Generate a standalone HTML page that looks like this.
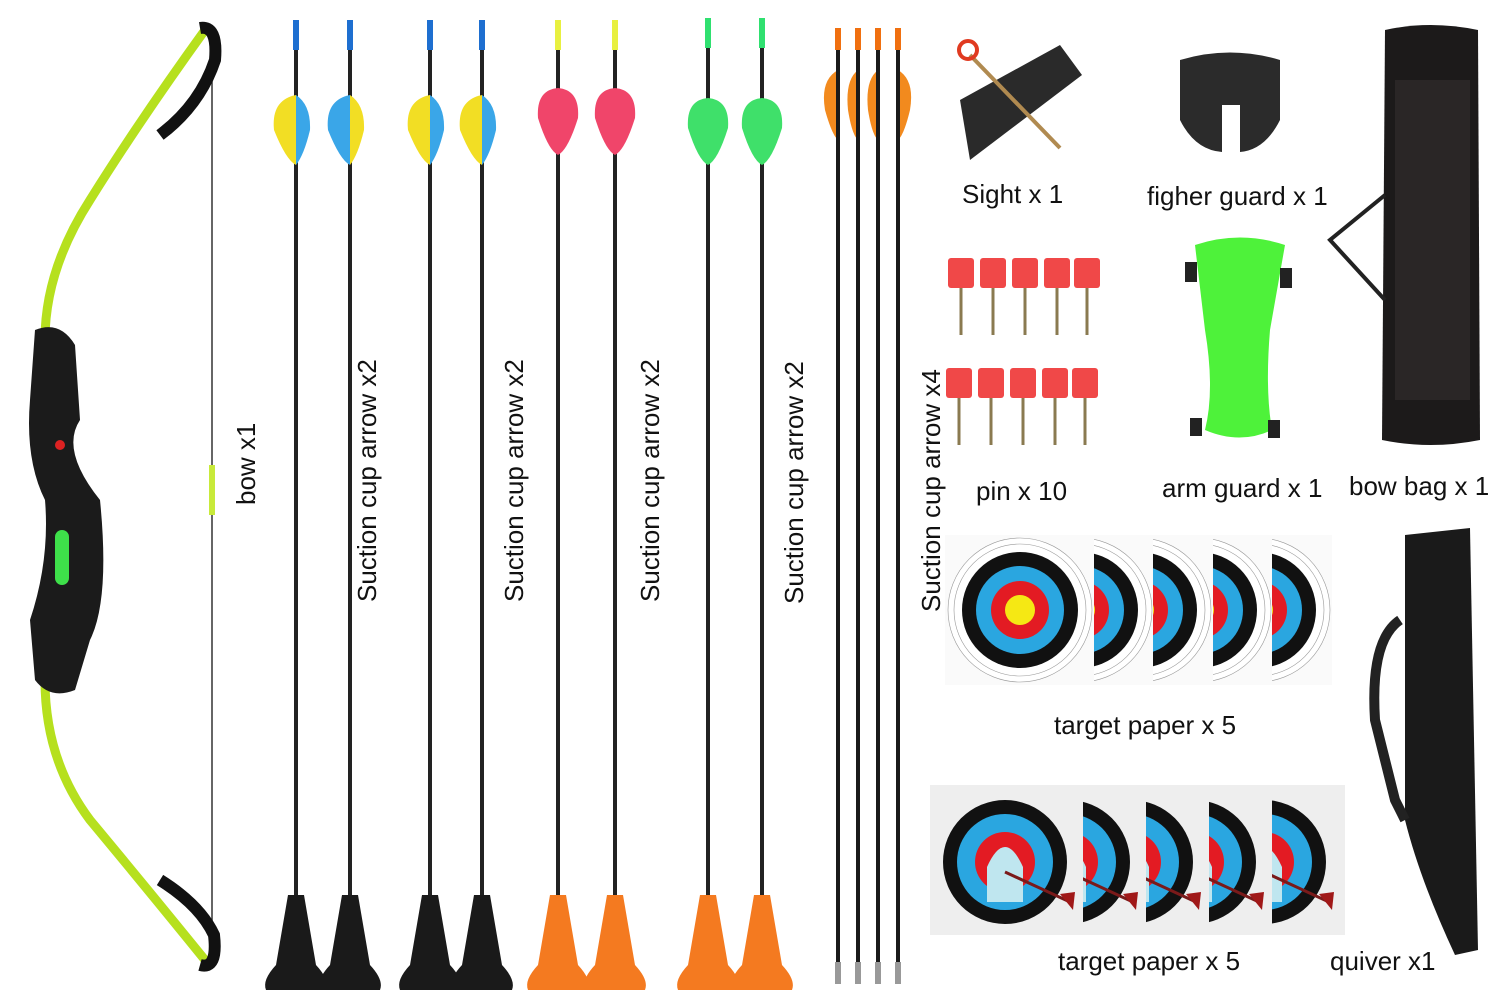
<!DOCTYPE html>
<html><head><meta charset="utf-8"><style>
html,body{margin:0;padding:0;background:#fff;}
svg{display:block}
text{font-family:"Liberation Sans",sans-serif;font-size:26px;fill:#111;}
</style></head><body>
<svg width="1500" height="1000" viewBox="0 0 1500 1000" xmlns="http://www.w3.org/2000/svg">
<defs>
<g id="tgt">
<circle r="72" fill="#fff" stroke="#999" stroke-width="0.6"/>
<circle r="66" fill="none" stroke="#999" stroke-width="0.6"/>
<circle r="58" fill="#111"/>
<circle r="44" fill="#2aa6e0"/>
<circle r="29" fill="#e31b23"/>
<circle r="15" fill="#f5e814"/>
</g>
<g id="tgt2">
<circle r="62" fill="#111"/>
<circle r="48" fill="#2aa6e0"/>
<circle r="30" fill="#e31b23"/>
<path d="M-18 40 L-18 5 Q0 -35 18 5 L18 40 Z" fill="#bfe6ef"/>
<line x1="0" y1="10" x2="65" y2="40" stroke="#7a1a1a" stroke-width="3"/>
<path d="M55 32 L70 30 L68 48 Z" fill="#a01818"/>
</g>
<clipPath id="c1"><rect x="1094" y="535" width="60" height="150"/></clipPath>
<clipPath id="c2"><rect x="1153" y="535" width="60" height="150"/></clipPath>
<clipPath id="c3"><rect x="1213" y="535" width="60" height="150"/></clipPath>
<clipPath id="c4"><rect x="1272" y="535" width="60" height="150"/></clipPath>
<clipPath id="d1"><rect x="1083" y="785" width="63" height="150"/></clipPath>
<clipPath id="d2"><rect x="1146" y="785" width="63" height="150"/></clipPath>
<clipPath id="d3"><rect x="1209" y="785" width="63" height="150"/></clipPath>
<clipPath id="d4"><rect x="1272" y="785" width="73" height="150"/></clipPath>
<g id="arrowB">
<line x1="0" y1="40" x2="0" y2="900" stroke="#222" stroke-width="4"/>
<rect x="-3" y="20" width="6" height="30" fill="#1e6fd0"/>
</g>
<g id="cupB"><path d="M-8 0 L8 0 L20 70 Q34 85 30 95 L-30 95 Q-34 85 -20 70 Z" fill="#1a1a1a"/></g>
<g id="cupO"><path d="M-8 0 L8 0 L20 70 Q34 85 30 95 L-30 95 Q-34 85 -20 70 Z" fill="#f47a20"/></g>
</defs>
<rect width="1500" height="1000" fill="#fff"/>

<!-- bow -->
<line x1="212" y1="40" x2="212" y2="960" stroke="#333" stroke-width="1.5"/>
<rect x="209" y="465" width="6" height="50" fill="#c8ea3a"/>
<path d="M205 30 Q140 120 90 200 Q45 270 45 340" fill="none" stroke="#b6e01e" stroke-width="9"/>
<path d="M45 680 Q45 760 90 820 Q140 880 205 960" fill="none" stroke="#b6e01e" stroke-width="9"/>
<path d="M200 28 Q218 25 215 60 Q200 105 160 135" fill="none" stroke="#111" stroke-width="12"/>
<path d="M160 880 Q200 905 214 935 Q218 970 200 965" fill="none" stroke="#111" stroke-width="12"/>
<path d="M35 330 Q60 320 75 345 L80 420 Q60 450 100 500 Q110 600 90 640 L75 690 Q50 700 35 680 L30 620 Q50 560 45 500 Q25 460 30 400 Z" fill="#1b1b1b"/>
<rect x="55" y="530" width="14" height="55" rx="7" fill="#3ee04a"/>
<circle cx="60" cy="445" r="5" fill="#d22"/>

<text transform="translate(255,505) rotate(-90)">bow x1</text>

<!-- arrows -->
<g transform="translate(296,0)"><use href="#arrowB"/><path d="M0 95 Q-25 100 -22 130 Q-10 160 0 165 Z" fill="#f2de24"/><path d="M0 95 Q15 105 14 130 Q8 155 0 165 Z" fill="#3aa6e8"/><use href="#cupB" y="895"/></g>
<g transform="translate(350,0)"><use href="#arrowB"/><path d="M0 95 Q-25 100 -22 130 Q-10 160 0 165 Z" fill="#3aa6e8"/><path d="M0 95 Q15 105 14 130 Q8 155 0 165 Z" fill="#f2de24"/><use href="#cupB" y="895"/></g>
<g transform="translate(430,0)"><use href="#arrowB"/><path d="M0 95 Q-25 100 -22 130 Q-10 160 0 165 Z" fill="#f2de24"/><path d="M0 95 Q15 105 14 130 Q8 155 0 165 Z" fill="#3aa6e8"/><use href="#cupB" y="895"/></g>
<g transform="translate(482,0)"><use href="#arrowB"/><path d="M0 95 Q-25 100 -22 130 Q-10 160 0 165 Z" fill="#f2de24"/><path d="M0 95 Q15 105 14 130 Q8 155 0 165 Z" fill="#3aa6e8"/><use href="#cupB" y="895"/></g>
<g transform="translate(558,0)"><line x1="0" y1="40" x2="0" y2="900" stroke="#222" stroke-width="4"/><rect x="-3" y="20" width="6" height="30" fill="#e8f040"/><path d="M0 88 Q-22 90 -20 118 Q-10 150 0 155 Q10 150 20 118 Q22 90 0 88 Z" fill="#f0456a"/><use href="#cupO" y="895"/></g>
<g transform="translate(615,0)"><line x1="0" y1="40" x2="0" y2="900" stroke="#222" stroke-width="4"/><rect x="-3" y="20" width="6" height="30" fill="#e8f040"/><path d="M0 88 Q-22 90 -20 118 Q-10 150 0 155 Q10 150 20 118 Q22 90 0 88 Z" fill="#f0456a"/><use href="#cupO" y="895"/></g>
<g transform="translate(708,0)"><line x1="0" y1="40" x2="0" y2="900" stroke="#222" stroke-width="4"/><rect x="-3" y="18" width="6" height="30" fill="#2fe070"/><path d="M0 98 Q-22 100 -20 128 Q-10 160 0 165 Q10 160 20 128 Q22 100 0 98 Z" fill="#3fe06a"/><use href="#cupO" y="895"/></g>
<g transform="translate(762,0)"><line x1="0" y1="40" x2="0" y2="900" stroke="#222" stroke-width="4"/><rect x="-3" y="18" width="6" height="30" fill="#2fe070"/><path d="M0 98 Q-22 100 -20 128 Q-10 160 0 165 Q10 160 20 128 Q22 100 0 98 Z" fill="#3fe06a"/><use href="#cupO" y="895"/></g>
<g fill="#f28a1e">
<path d="M838 70 Q820 80 825 110 Q832 135 838 140 Z"/><path d="M858 70 Q845 80 848 110 Q852 135 858 140 Z"/><path d="M878 70 Q865 80 868 110 Q872 135 878 140 Z"/><path d="M898 70 Q915 80 910 110 Q904 135 898 140 Z"/>
</g>
<g stroke="#1a1a1a" stroke-width="4">
<line x1="838" y1="35" x2="838" y2="965"/><line x1="858" y1="35" x2="858" y2="965"/><line x1="878" y1="35" x2="878" y2="965"/><line x1="898" y1="35" x2="898" y2="965"/>
</g>
<g fill="#f07010"><rect x="835" y="28" width="6" height="22"/><rect x="855" y="28" width="6" height="22"/><rect x="875" y="28" width="6" height="22"/><rect x="895" y="28" width="6" height="22"/></g>
<g fill="#999"><rect x="835" y="962" width="6" height="22"/><rect x="855" y="962" width="6" height="22"/><rect x="875" y="962" width="6" height="22"/><rect x="895" y="962" width="6" height="22"/></g>

<text transform="translate(376,602) rotate(-90)">Suction cup arrow x2</text>
<text transform="translate(523,602) rotate(-90)">Suction cup arrow x2</text>
<text transform="translate(659,602) rotate(-90)">Suction cup arrow x2</text>
<text transform="translate(803,604) rotate(-90)">Suction cup arrow x2</text>
<text transform="translate(940,612) rotate(-90)">Suction cup arrow x4</text>

<!-- sight -->
<path d="M960 100 L1060 45 L1082 75 L970 160 Z" fill="#2a2a2a"/>
<line x1="970" y1="55" x2="1060" y2="148" stroke="#b08a50" stroke-width="4"/>
<circle cx="968" cy="50" r="9" fill="none" stroke="#e03a20" stroke-width="4"/>
<text x="962" y="203">Sight x 1</text>

<!-- finger guard -->
<path d="M1180 60 Q1230 45 1280 60 L1280 120 Q1265 150 1240 152 L1240 105 L1222 105 L1222 152 Q1195 150 1180 120 Z" fill="#2b2b2b"/>
<text x="1147" y="205">figher guard x 1</text>

<!-- bow bag -->
<path d="M1385 30 Q1430 20 1478 30 L1480 440 Q1430 450 1382 440 Z" fill="#1c1a1a"/>
<rect x="1395" y="80" width="75" height="320" fill="#2a2626"/>
<path d="M1385 195 L1330 240 L1385 300" fill="none" stroke="#222" stroke-width="4"/>
<text x="1349" y="495">bow bag x 1</text>

<!-- pins -->
<g fill="#f04848">
<rect x="948" y="258" width="26" height="30" rx="3"/><rect x="980" y="258" width="26" height="30" rx="3"/><rect x="1012" y="258" width="26" height="30" rx="3"/><rect x="1044" y="258" width="26" height="30" rx="3"/><rect x="1074" y="258" width="26" height="30" rx="3"/>
<rect x="946" y="368" width="26" height="30" rx="3"/><rect x="978" y="368" width="26" height="30" rx="3"/><rect x="1010" y="368" width="26" height="30" rx="3"/><rect x="1042" y="368" width="26" height="30" rx="3"/><rect x="1072" y="368" width="26" height="30" rx="3"/>
</g>
<g stroke="#8a7a50" stroke-width="3">
<line x1="961" y1="288" x2="961" y2="335"/><line x1="993" y1="288" x2="993" y2="335"/><line x1="1025" y1="288" x2="1025" y2="335"/><line x1="1057" y1="288" x2="1057" y2="335"/><line x1="1087" y1="288" x2="1087" y2="335"/>
<line x1="959" y1="398" x2="959" y2="445"/><line x1="991" y1="398" x2="991" y2="445"/><line x1="1023" y1="398" x2="1023" y2="445"/><line x1="1055" y1="398" x2="1055" y2="445"/><line x1="1085" y1="398" x2="1085" y2="445"/>
</g>
<text x="976" y="500">pin x 10</text>

<!-- arm guard -->
<path d="M1195 245 Q1240 230 1285 245 L1270 330 Q1265 390 1272 430 Q1240 445 1205 430 Q1215 390 1205 330 Z" fill="#4ef23a"/>
<rect x="1185" y="262" width="12" height="20" fill="#222"/><rect x="1280" y="268" width="12" height="20" fill="#222"/><rect x="1190" y="418" width="12" height="18" fill="#222"/><rect x="1268" y="420" width="12" height="18" fill="#222"/>
<text x="1162" y="497">arm guard x 1</text>

<!-- targets row 1 -->
<rect x="945" y="535" width="150" height="150" fill="#fafafa"/>
<use href="#tgt" x="1020" y="610"/>
<g clip-path="url(#c1)"><rect x="1094" y="535" width="60" height="150" fill="#fafafa"/><use href="#tgt" x="1080" y="610"/></g>
<g clip-path="url(#c2)"><rect x="1153" y="535" width="60" height="150" fill="#fafafa"/><use href="#tgt" x="1139" y="610"/></g>
<g clip-path="url(#c3)"><rect x="1213" y="535" width="60" height="150" fill="#fafafa"/><use href="#tgt" x="1199" y="610"/></g>
<g clip-path="url(#c4)"><rect x="1272" y="535" width="60" height="150" fill="#fafafa"/><use href="#tgt" x="1258" y="610"/></g>
<text x="1054" y="734">target paper x 5</text>

<!-- targets row 2 -->
<rect x="930" y="785" width="155" height="150" fill="#eeeeee"/>
<use href="#tgt2" x="1005" y="862"/>
<g clip-path="url(#d1)"><rect x="1083" y="785" width="63" height="150" fill="#eeeeee"/><use href="#tgt2" x="1068" y="862"/></g>
<g clip-path="url(#d2)"><rect x="1146" y="785" width="63" height="150" fill="#eeeeee"/><use href="#tgt2" x="1131" y="862"/></g>
<g clip-path="url(#d3)"><rect x="1209" y="785" width="63" height="150" fill="#eeeeee"/><use href="#tgt2" x="1194" y="862"/></g>
<g clip-path="url(#d4)"><rect x="1272" y="785" width="73" height="150" fill="#eeeeee"/><use href="#tgt2" x="1264" y="862"/></g>
<text x="1058" y="970">target paper x 5</text>

<!-- quiver -->
<path d="M1405 535 L1470 528 L1478 950 L1455 955 Q1420 880 1405 820 Z" fill="#1a1a1a"/>
<path d="M1400 620 Q1370 640 1375 720 L1395 800 L1405 820" fill="none" stroke="#222" stroke-width="10"/>
<text x="1330" y="970">quiver x1</text>
</svg>
</body></html>
